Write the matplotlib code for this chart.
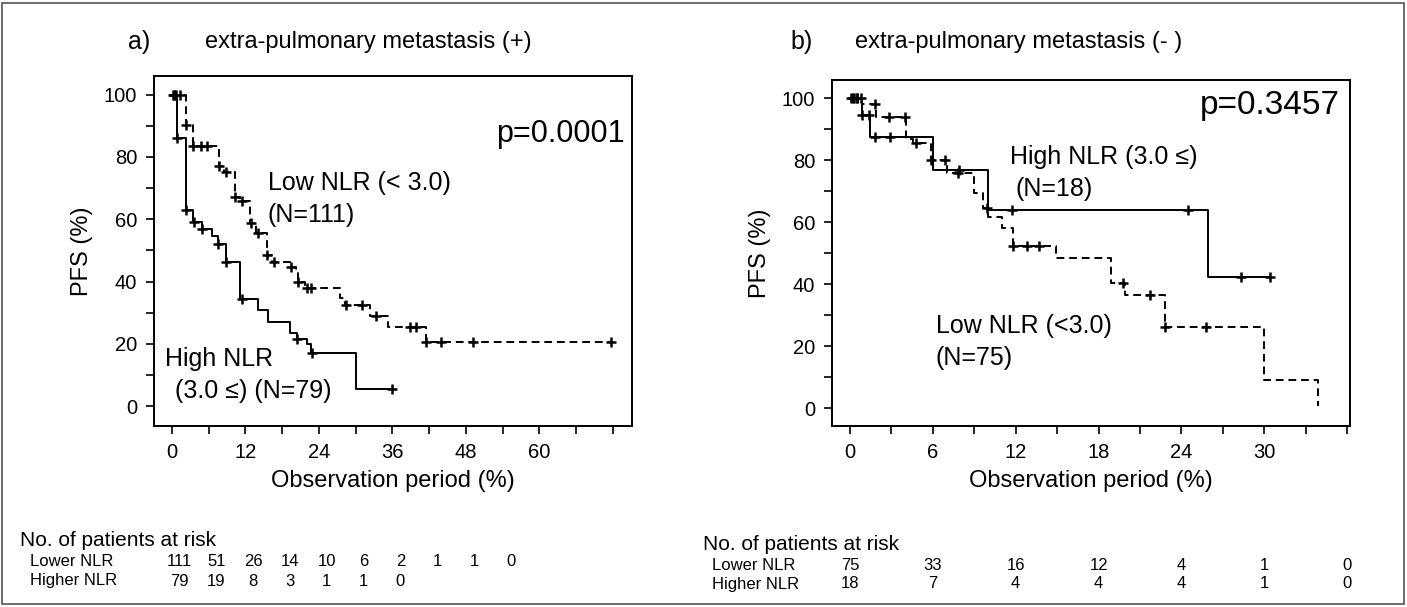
import numpy as np
import matplotlib
matplotlib.use("Agg")
import matplotlib.pyplot as plt
import matplotlib.transforms as mtrans
from matplotlib.patches import Rectangle

plt.rcParams['font.family'] = ['Liberation Sans', 'DejaVu Sans']

# ---- panel a) extra-pulmonary metastasis (+) ----
t_hi_a = [0, 0.8, 2.4, 3.5, 4.9, 6.5, 7.5, 8.8, 11.1, 14.0, 15.7, 19.3, 20.4, 22.0, 22.8, 30.0]
s_hi_a = [100, 86, 63, 59, 57, 54.5, 52, 46.4, 34.3, 30.9, 27, 23.4, 21.7, 20, 17, 5.5]
end_hi_a = 36.0
cens_hi_a = [0.3, 0.6, 0.8, 2.4, 3.6, 5.0, 7.5, 8.9, 11.4, 20.5, 22.9, 36.0]

t_lo_a = [0, 2.4, 3.4, 7.7, 8.5, 10.3, 11.1, 12.7, 13.7, 15.5, 16.3, 19.5, 20.2, 20.6, 21.7, 27.4, 28.2, 32.4, 35.3, 41.5]
s_lo_a = [100, 90.3, 83.4, 77, 75.3, 67.3, 65.8, 58.7, 55.5, 48.5, 46.4, 44.8, 42.6, 40, 37.8, 34.6, 32.5, 28.8, 25.5, 20.7]
end_lo_a = 71.6
cens_lo_a = [0.2, 0.65, 1.3, 2.4, 3.4, 4.8, 5.7, 7.7, 8.8, 10.3, 11.4, 13.0, 14.1, 15.5, 16.7, 19.5,
             20.6, 22.0, 22.8, 28.5, 31.0, 33.4, 38.9, 39.8, 41.5, 44.0, 49.2, 71.6]

# ---- panel b) extra-pulmonary metastasis (-) ----
t_hi_b = [0, 0.9, 1.45, 6.0, 10.0, 25.9]
s_hi_b = [100, 94.5, 87.5, 76.8, 64, 42.4]
end_hi_b = 30.4
cens_hi_b = [0.1, 0.3, 0.5, 0.8, 0.9, 1.4, 1.8, 2.9, 7.9, 11.7, 24.5, 28.3, 30.4]

t_lo_b = [0, 0.85, 1.9, 4.07, 4.6, 5.9, 7.0, 9.0, 9.6, 10.0, 11.0, 11.8, 14.9, 18.9, 19.9, 22.8, 30.0, 33.9]
s_lo_b = [100, 98, 93.8, 86.7, 85.4, 80, 75.7, 69.2, 64.5, 61.7, 58, 52.4, 48.3, 40.2, 36.5, 26, 9, 0.5]
end_lo_b = 33.9
cens_lo_b = [0.2, 0.5, 1.8, 2.8, 4.0, 4.8, 5.9, 6.9, 7.8, 9.9, 11.8, 12.8, 13.7, 19.8, 21.7, 22.8, 25.8]

# ---- numbers at risk ----
risk_lo_a = [111, 51, 26, 14, 10, 6, 2, 1, 1, 0]
risk_hi_a = [79, 19, 8, 3, 1, 1, 0]
risk_lo_b = [75, 33, 16, 12, 4, 1, 0]
risk_hi_b = [18, 7, 4, 4, 4, 1, 0]

W, H = 1407, 607
fig = plt.figure(figsize=(W / 100, H / 100), dpi=100)


def fx(px):
    return px / W


def fy(py):
    return 1 - py / H


def km(ax, t, s, end, cens, ls):
    tt = list(t) + [end]
    ss = list(s) + [s[-1]]
    if ls == '--':
        ax.step(tt, ss, where='post', color='black', lw=1.4, ls='--', dashes=(4, 2.5))
    else:
        ax.step(tt, ss, where='post', color='black', lw=1.4)
    c = np.array(cens)
    idx = np.searchsorted(np.array(t), c, side='right') - 1
    ax.plot(c, np.array(s)[idx], ls='none', marker='+', ms=7, mew=1.8, color='black')


def style(ax):
    for sp in ax.spines.values():
        sp.set_linewidth(1.4)
    ax.tick_params(which='both', direction='out', length=6, width=1.2, labelsize=14.5, pad=6)
    ax.set_yticks(range(0, 101, 20))
    ax.set_yticks(range(0, 101, 10), minor=True)
    ax.set_ylabel('PFS (%)', fontsize=17, labelpad=8)
    ax.set_xlabel('Observation period (%)', fontsize=17, labelpad=6)


# panel a
axa = fig.add_axes([fx(154), fy(426), fx(632) - fx(154), fy(76) - fy(426)])
km(axa, t_hi_a, s_hi_a, end_hi_a, cens_hi_a, '-')
km(axa, t_lo_a, s_lo_a, end_lo_a, cens_lo_a, '--')
style(axa)
axa.set_ylim(-6.4, 106)
axa.set_xlim(-2.9, 75.1)
axa.set_xticks(range(0, 61, 12))
axa.set_xticks(range(0, 73, 6), minor=True)
axa.text(0.985, 0.835, 'p=0.0001', fontsize=22, va='center', ha='right', transform=axa.transAxes)
axa.text(15.7, 71.7, 'Low NLR (< 3.0)', fontsize=18, va='center')
axa.text(15.7, 61.5, '(N=111)', fontsize=18, va='center')
axa.text(-1.1, 15, 'High NLR', fontsize=18, va='center')
axa.text(0.5, 5, '(3.0 \u2264) (N=79)', fontsize=18, va='center')

# panel b
axb = fig.add_axes([fx(832), fy(426), fx(1350) - fx(832), fy(80) - fy(426)])
km(axb, t_hi_b, s_hi_b, end_hi_b, cens_hi_b, '-')
km(axb, t_lo_b, s_lo_b, end_lo_b, cens_lo_b, '--')
style(axb)
axb.set_ylim((408 - 426) / 3.1, (408 - 80) / 3.1)
axb.set_xlim(-1.3, 36.2)
axb.set_xticks(range(0, 31, 6))
axb.set_xticks(range(0, 37, 3), minor=True)
axb.text(0.98, 0.925, 'p=0.3457', fontsize=24, va='center', ha='right', transform=axb.transAxes)
axb.text(11.6, 81, 'High NLR (3.0 \u2264)', fontsize=18, va='center')
axb.text(12.0, 70.5, '(N=18)', fontsize=18, va='center')
axb.text(6.2, 26.5, 'Low NLR (<3.0)', fontsize=18, va='center')
axb.text(6.2, 16, '(N=75)', fontsize=18, va='center')

# titles
fig.text(fx(128), fy(42), 'a)', fontsize=18, va='center')
fig.text(fx(205), fy(42), 'extra-pulmonary metastasis (+)', fontsize=17, va='center')
fig.text(fx(790), fy(42), 'b)', fontsize=18, va='center')
fig.text(fx(855), fy(42), 'extra-pulmonary metastasis (- )', fontsize=17, va='center')

# risk tables
tra = mtrans.blended_transform_factory(axa.transData, fig.transFigure)
trb = mtrans.blended_transform_factory(axb.transData, fig.transFigure)
fig.text(fx(20), fy(540), 'No. of patients at risk', fontsize=15, va='center')
fig.text(fx(30), fy(562), 'Lower NLR', fontsize=12, va='center')
fig.text(fx(30), fy(581), 'Higher NLR', fontsize=12, va='center')
for i, n in enumerate(risk_lo_a):
    axa.text(i * 6 + 1.3, fy(562), str(n), fontsize=12, ha='center', va='center', transform=tra)
for i, n in enumerate(risk_hi_a):
    axa.text(i * 6 + 1.3, fy(581), str(n), fontsize=12, ha='center', va='center', transform=tra)

fig.text(fx(703), fy(544), 'No. of patients at risk', fontsize=15, va='center')
fig.text(fx(712), fy(565), 'Lower NLR', fontsize=12, va='center')
fig.text(fx(712), fy(584), 'Higher NLR', fontsize=12, va='center')
for i, n in enumerate(risk_lo_b):
    axb.text(i * 6, fy(565), str(n), fontsize=12, ha='center', va='center', transform=trb)
for i, n in enumerate(risk_hi_b):
    axb.text(i * 6, fy(584), str(n), fontsize=12, ha='center', va='center', transform=trb)

# outer frame
fig.patches.append(Rectangle((fx(2), fy(604)), fx(1404) - fx(2), fy(3) - fy(604),
                             transform=fig.transFigure, fill=False, lw=1.2, color='#555555'))

fig.savefig('out.png', dpi=100)
